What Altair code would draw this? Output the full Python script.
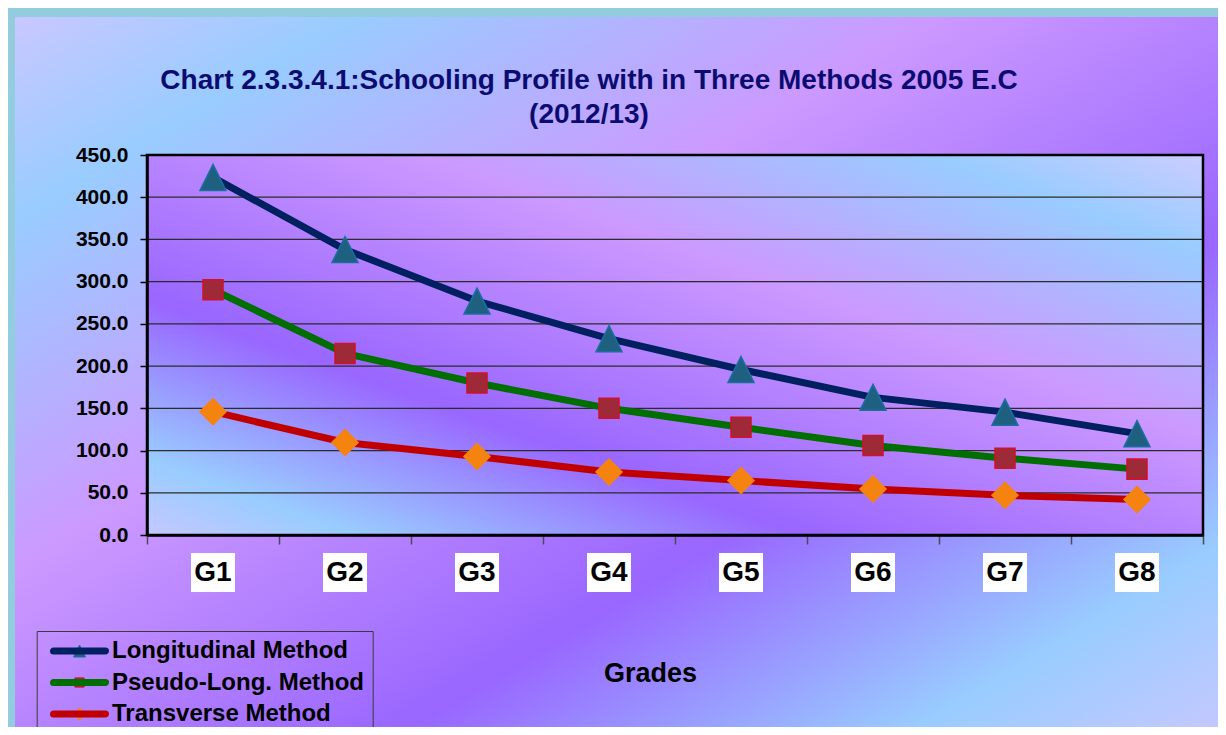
import altair as alt
import pandas as pd

# ---------------- data ----------------
grades = ["G1", "G2", "G3", "G4", "G5", "G6", "G7", "G8"]
methods = ["Longitudinal Method", "Pseudo-Long. Method", "Transverse Method"]
longitudinal = [423.5, 338.0, 277.0, 232.5, 196.0, 163.0, 145.5, 120.0]
pseudo_long = [290.5, 215.0, 180.0, 150.0, 127.5, 106.0, 91.0, 78.0]
transverse = [146.0, 109.5, 93.0, 74.5, 64.5, 54.5, 47.0, 42.0]
y_ticks = [0, 50, 100, 150, 200, 250, 300, 350, 400, 450]
grid_values = [50, 100, 150, 200, 250, 300, 350, 400]
title_lines = ["Chart  2.3.3.4.1:Schooling Profile with in Three Methods 2005 E.C", "(2012/13)"]
x_title = "Grades"

series = {methods[0]: longitudinal, methods[1]: pseudo_long, methods[2]: transverse}
rows = []
for i, g in enumerate(grades):
    for m in methods:
        rows.append({"grade": g, "idx": i, "method": m, "marker_key": m, "value": series[m][i]})
df = pd.DataFrame(rows)
grade_df = pd.DataFrame({"grade": grades, "idx": list(range(len(grades)))})
grid_df = pd.DataFrame({"v": grid_values})
one = pd.DataFrame({"k": [0]})

# ---------------- style ----------------
W, H = 1056, 380
FONT = "Liberation Sans"
line_colors = ["#002060", "#006E00", "#C00000"]
marker_fill = ["#1F5F7F", "#9E2A38", "#F5830F"]
marker_stroke = ["#1B6FA0", "#D2102C", "#F5830F"]
tri = "M0,-1L1,1L-1,1Z"
sq = "M-0.77,-0.77H0.77V0.77H-0.77Z"
dia = "M0,-1L1,0L0,1L-1,0Z"
bar_path = "M-6.5,-0.25H6.5A0.25,0.25 0 0 1 6.5,0.25H-6.5A0.25,0.25 0 0 1 -6.5,-0.25Z"
box_path = "M-1.1,-0.975H1.1V0.975H-1.1Z"

outer_grad = alt.LinearGradient(
    gradient="linear", x1=0, y1=0, x2=1, y2=1,
    stops=[
        alt.GradientStop(offset=0.0, color="#C8C8FF"),
        alt.GradientStop(offset=0.14, color="#99CCFF"),
        alt.GradientStop(offset=0.38, color="#CC99FF"),
        alt.GradientStop(offset=0.65, color="#9966FF"),
        alt.GradientStop(offset=0.86, color="#99CCFF"),
        alt.GradientStop(offset=1.0, color="#C8C8FF"),
    ],
)
plot_grad = alt.LinearGradient(
    gradient="linear", x1=1, y1=0, x2=0, y2=1,
    stops=[
        alt.GradientStop(offset=0.0, color="#CCCCFF"),
        alt.GradientStop(offset=0.13, color="#99CCFF"),
        alt.GradientStop(offset=0.37, color="#CC99FF"),
        alt.GradientStop(offset=0.69, color="#9966FF"),
        alt.GradientStop(offset=0.90, color="#99CCFF"),
        alt.GradientStop(offset=1.0, color="#C4C8FF"),
    ],
)

xscale = alt.Scale(domain=[0, 8], nice=False, zero=False)
yscale = alt.Scale(domain=[0, 450], nice=False, zero=True)

xaxis = alt.Axis(
    values=list(range(9)), labels=False, ticks=True, tickSize=9, tickWidth=1.5,
    tickColor="#4A4A5A", domainColor="black", domainWidth=2.5, grid=False,
    title=x_title, titleFont=FONT, titleFontSize=27, titleFontWeight="bold",
    titleColor="black", titleX=503, titleY=138, titleBaseline="middle",
    titleAlign="center", zindex=1,
)
yaxis = alt.Axis(
    values=y_ticks, format=".1f", labelFont=FONT, labelFontSize=21,
    labelFontWeight="bold", labelColor="black", labelPadding=12,
    tickSize=7, tickWidth=1.5, tickColor="black", domainColor="black",
    domainWidth=2.5, grid=False, title=None, zindex=1,
)

X = alt.X("xpos:Q", scale=xscale, axis=xaxis)
Y = alt.Y("value:Q", scale=yscale, axis=yaxis)

common_legend = dict(
    title=None, orient="none", legendX=-110.3, legendY=476, padding=8,
    symbolOffset=22.8, labelOffset=20.5, rowPadding=7.5, labelFontSize=24,
    labelFont=FONT, labelFontWeight="bold", labelColor="black", labelLimit=500,
)
legend_a = alt.Legend(symbolType=bar_path, symbolSize=64, symbolStrokeWidth=5,
                      strokeColor="#3A3A3A", **common_legend)
legend_b = alt.Legend(symbolSize=144, symbolStrokeWidth=1, labelExpr="''", **common_legend)

# ---------------- layers ----------------
outer_bg = alt.Chart(one).mark_rect(fill=outer_grad, strokeWidth=0).encode(
    x=alt.value(-132), x2=alt.value(1079), y=alt.value(-138), y2=alt.value(590)
)
plot_bg = alt.Chart(one).mark_rect(fill=plot_grad, strokeWidth=0).encode(
    x=alt.value(0), x2=alt.value(W), y=alt.value(0), y2=alt.value(H)
)
grid = alt.Chart(grid_df).mark_rule(color="#2B2B2B", strokeWidth=1.3).encode(
    y=alt.Y("v:Q", scale=yscale, axis=yaxis)
)
border = alt.Chart(one).mark_rect(filled=False, stroke="black", strokeWidth=2.5).encode(
    x=alt.value(0), x2=alt.value(W), y=alt.value(0), y2=alt.value(H)
)
lines = alt.Chart(df).transform_calculate(xpos="datum.idx + 0.5").mark_line(
    strokeWidth=7, strokeJoin="round"
).encode(
    x=X, y=Y,
    color=alt.Color("method:N", scale=alt.Scale(range=line_colors), legend=legend_a),
)
points = alt.Chart(df).transform_calculate(xpos="datum.idx + 0.5").mark_point(
    filled=True, size=676, opacity=1, strokeWidth=1.5
).encode(
    x=X, y=Y,
    shape=alt.Shape("marker_key:N", scale=alt.Scale(range=[tri, sq, dia]), legend=legend_b),
    fill=alt.Fill("marker_key:N", scale=alt.Scale(range=marker_fill), legend=legend_b),
    stroke=alt.Stroke("marker_key:N", scale=alt.Scale(range=marker_stroke), legend=legend_b),
)
boxes = alt.Chart(grade_df).transform_calculate(xpos="datum.idx + 0.5").mark_point(
    shape=box_path, size=1600, filled=True, fill="white", opacity=1, strokeWidth=0
).encode(x=alt.X("xpos:Q", scale=xscale, axis=xaxis), y=alt.value(H + 37.5))
glabels = alt.Chart(grade_df).transform_calculate(xpos="datum.idx + 0.5").mark_text(
    font=FONT, fontSize=28, fontWeight="bold", color="black", baseline="middle", align="center"
).encode(x=alt.X("xpos:Q", scale=xscale, axis=xaxis), y=alt.value(H + 37.5), text="grade:N")
title1 = alt.Chart(one).mark_text(
    font=FONT, fontSize=28, fontWeight="bold", color="#0C0C70", baseline="middle", align="center"
).encode(x=alt.value(442), y=alt.value(-74), text=alt.value(title_lines[0]))
title2 = alt.Chart(one).mark_text(
    font=FONT, fontSize=28, fontWeight="bold", color="#0C0C70", baseline="middle", align="center"
).encode(x=alt.value(442), y=alt.value(-40), text=alt.value(title_lines[1]))

chart = alt.layer(
    outer_bg, plot_bg, grid, border, lines, points, boxes, glabels, title1, title2
).resolve_scale(color="independent").properties(
    width=W, height=H,
    autosize=alt.AutoSizeParams(type="none"),
    padding={"left": 139, "top": 147, "right": 15, "bottom": 192},
).configure(font=FONT, background="#93CDDD").configure_view(strokeWidth=0)

chart.save("out.html", embed_options={"renderer": "svg", "actions": False})
